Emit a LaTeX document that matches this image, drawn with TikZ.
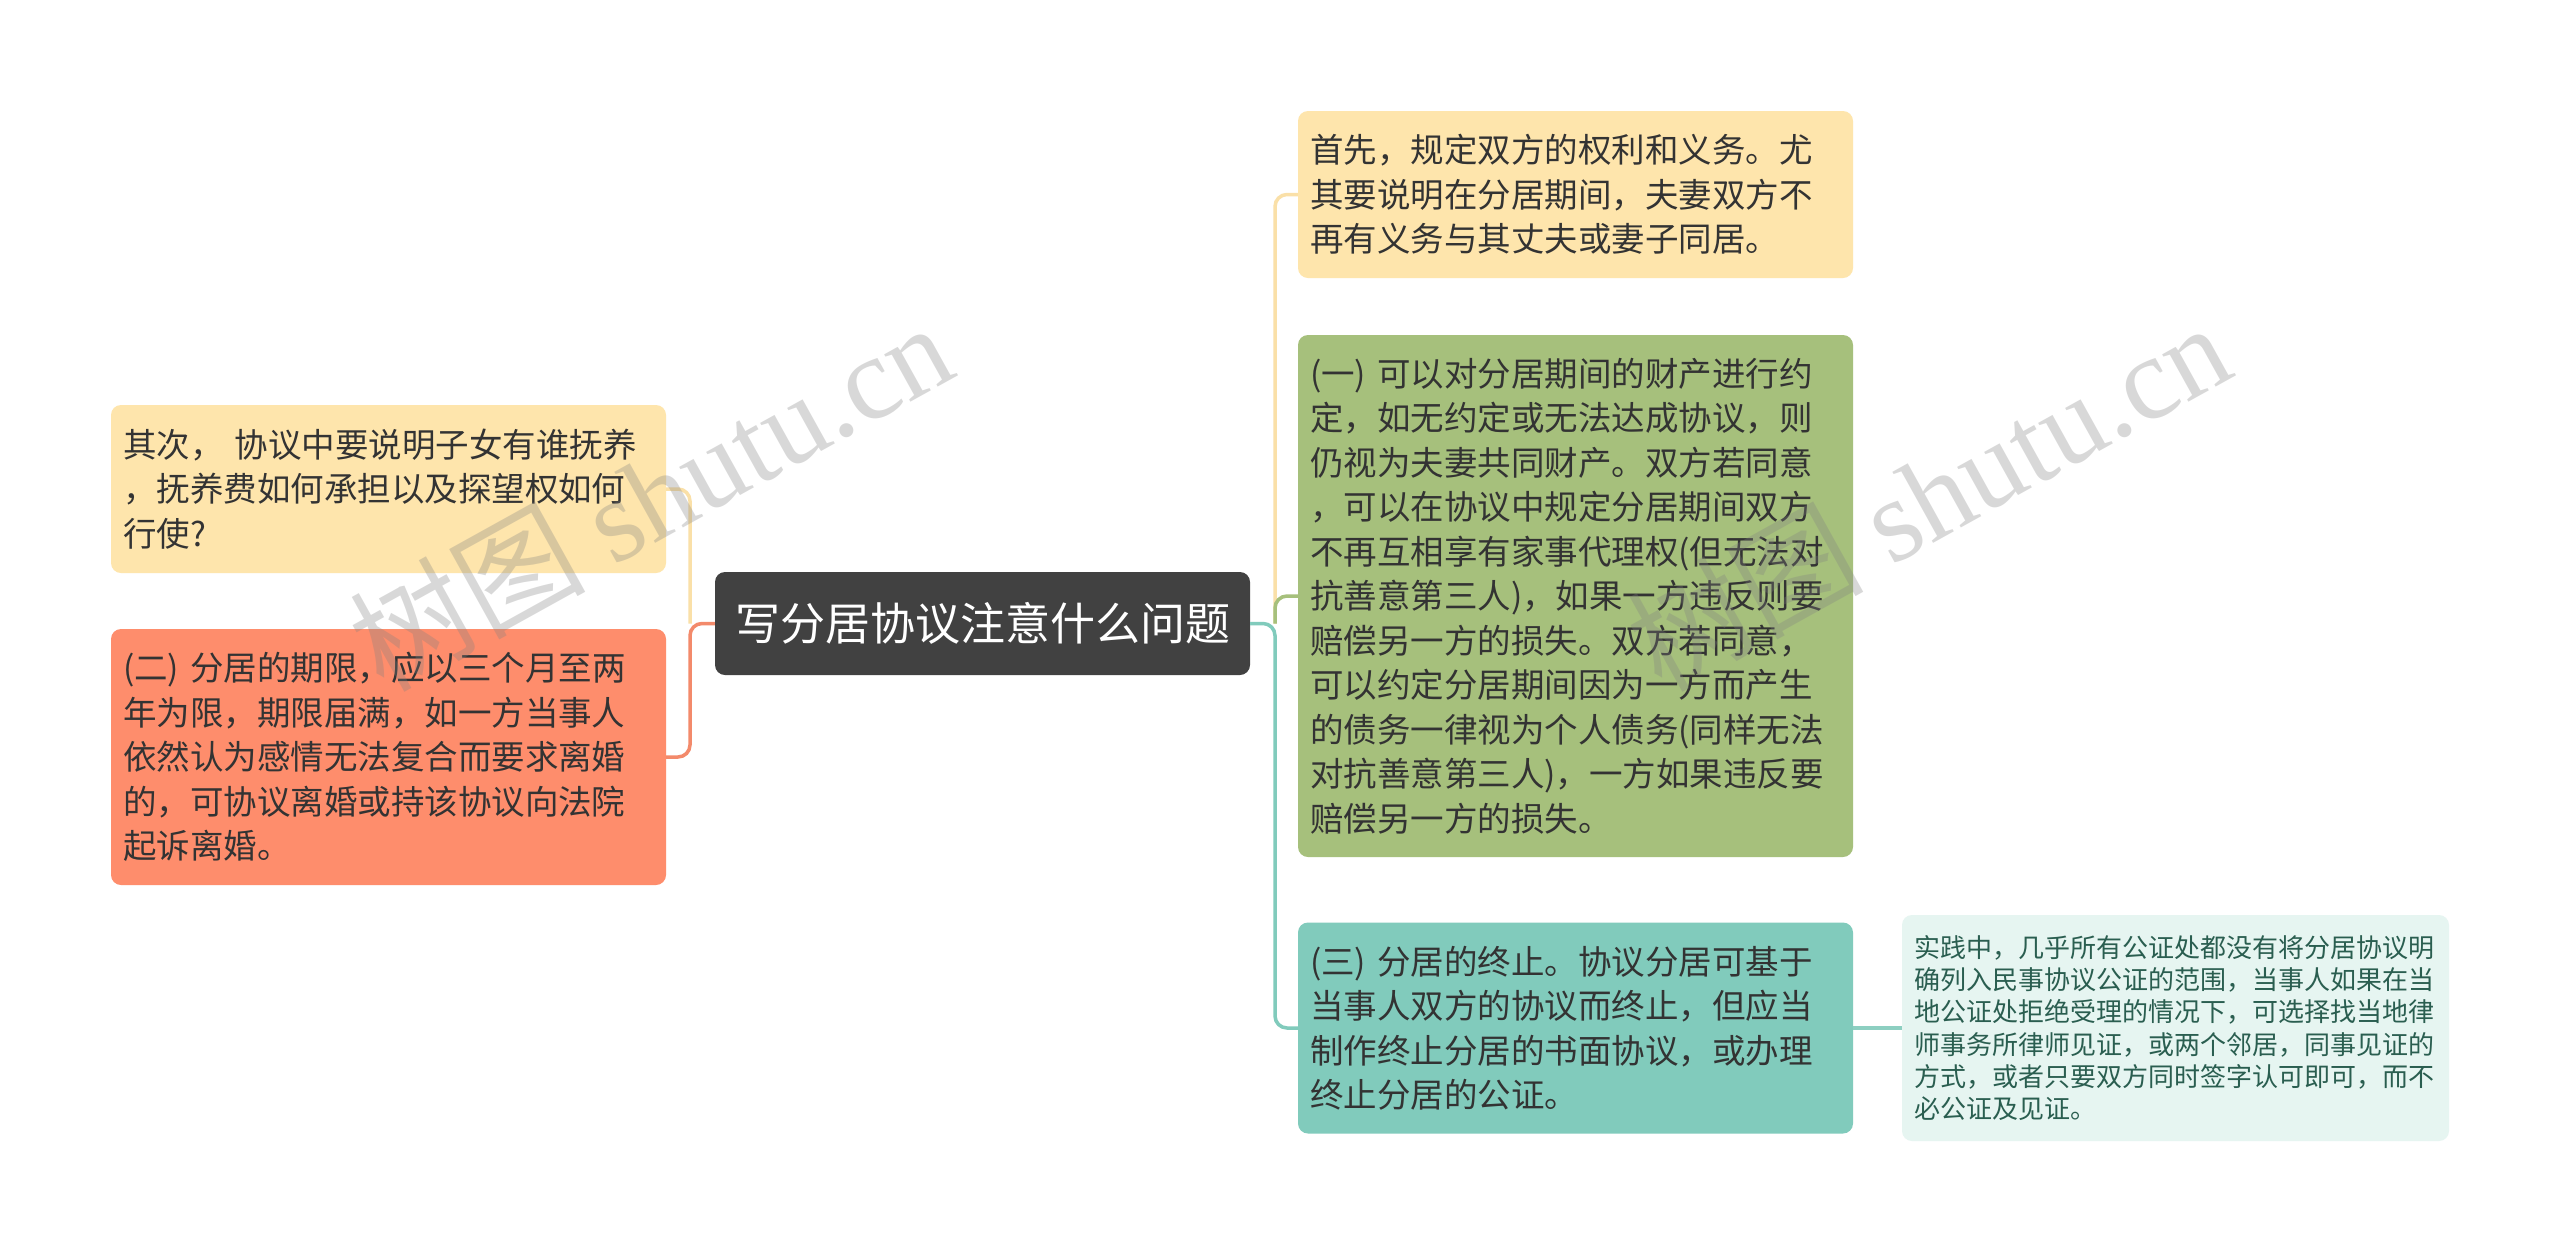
\documentclass[tikz,border=0pt]{standalone}
\usepackage{fontspec}
\setmainfont{Noto Sans CJK SC}
\newfontfamily\wmlatin{Liberation Serif}
\definecolor{cyel}{HTML}{FEE5AC}
\definecolor{cyelline}{HTML}{FAE0A8}
\definecolor{cgreen}{HTML}{A6C07C}
\definecolor{csalmon}{HTML}{FE8D6C}
\definecolor{csalmonline}{HTML}{F38A6B}
\definecolor{cteal}{HTML}{81CBBC}
\definecolor{ctealline}{HTML}{8DCFC1}
\definecolor{cpale}{HTML}{E6F5F1}
\definecolor{cdark}{HTML}{414141}
\definecolor{ctext}{HTML}{333333}
\definecolor{cpaletext}{HTML}{2A5E50}
\begin{document}
\begin{tikzpicture}[x=1pt,y=-1pt,
  box/.style={rounded corners=10pt, inner xsep=12pt, inner ysep=0pt, text width=531pt,
    align=left, font=\fontsize{33.5}{44.5}\selectfont, text=ctext, anchor=center},
  conn/.style={line width=3.5pt, rounded corners=12pt},
  wm/.style={font=\fontsize{118}{118}\selectfont, text=black!50, opacity=0.3, rotate=29}]
\useasboundingbox (0,0) rectangle (2560,1254);
\fill[white] (0,0) rectangle (2560,1254);

% nodes
\node[rounded corners=10pt, fill=cdark, text=white, minimum width=535pt, minimum height=103pt,
  inner sep=0pt, font=\fontsize{45}{50}\selectfont] (C) at (982.5,623.5) {写分居协议注意什么问题};

\node[box, fill=cyel, minimum height=168pt] (L1) at (388.5,489)
  {其次，\ 协议中要说明子女有谁抚养\\，抚养费如何承担以及探望权如何\\行使?};
\node[box, fill=csalmon, minimum height=256pt] (L2) at (388.5,757)
  {(二) 分居的期限，应以三个月至两\\年为限，期限届满，如一方当事人\\依然认为感情无法复合而要求离婚\\的，可协议离婚或持该协议向法院\\起诉离婚。};

\node[box, fill=cyel, minimum height=167pt] (R1) at (1575.5,194.5)
  {首先，规定双方的权利和义务。尤\\其要说明在分居期间，夫妻双方不\\再有义务与其丈夫或妻子同居。};
\node[box, fill=cgreen, minimum height=522pt] (R2) at (1575.5,596)
  {(一) 可以对分居期间的财产进行约\\定，如无约定或无法达成协议，则\\仍视为夫妻共同财产。双方若同意\\，可以在协议中规定分居期间双方\\不再互相享有家事代理权(但无法对\\抗善意第三人)，如果一方违反则要\\赔偿另一方的损失。双方若同意，\\可以约定分居期间因为一方而产生\\的债务一律视为个人债务(同样无法\\对抗善意第三人)，一方如果违反要\\赔偿另一方的损失。};
\node[box, fill=cteal, minimum height=211pt] (R3) at (1575.5,1028)
  {(三) 分居的终止。协议分居可基于\\当事人双方的协议而终止，但应当\\制作终止分居的书面协议，或办理\\终止分居的公证。};
\node[box, fill=cpale, text=cpaletext, inner xsep=12pt, text width=523pt, minimum height=226pt,
  font=\fontsize{26}{32.2}\selectfont] (R4) at (2175.5,1028)
  {实践中，几乎所有公证处都没有将分居协议明\\确列入民事协议公证的范围，当事人如果在当\\地公证处拒绝受理的情况下，可选择找当地律\\师事务所律师见证，或两个邻居，同事见证的\\方式，或者只要双方同时签字认可即可，而不\\必公证及见证。};

% junctions
\coordinate (jl) at (690,623.5);
\coordinate (jr) at (1275,623.5);

% connectors
\draw[conn, cyelline] (L1.east) -| (jl);
\draw[conn, csalmonline] (C.west) -- (jl) |- (L2.east);
\draw[conn, cyelline] (jr) |- (R1.west);
\draw[conn, cgreen] (jr) |- (R2.west);
\draw[conn, cteal] (C.east) -- (jr) |- (R3.west);
\draw[line width=3.5pt, ctealline] (R3.east) -- (R4.west);

% watermarks
\node[wm] (wm1) at (650,495) {树图 {\wmlatin shutu.cn}};
\node[wm] (wm2) at (1928,495) {树图 {\wmlatin shutu.cn}};
\end{tikzpicture}
\end{document}
